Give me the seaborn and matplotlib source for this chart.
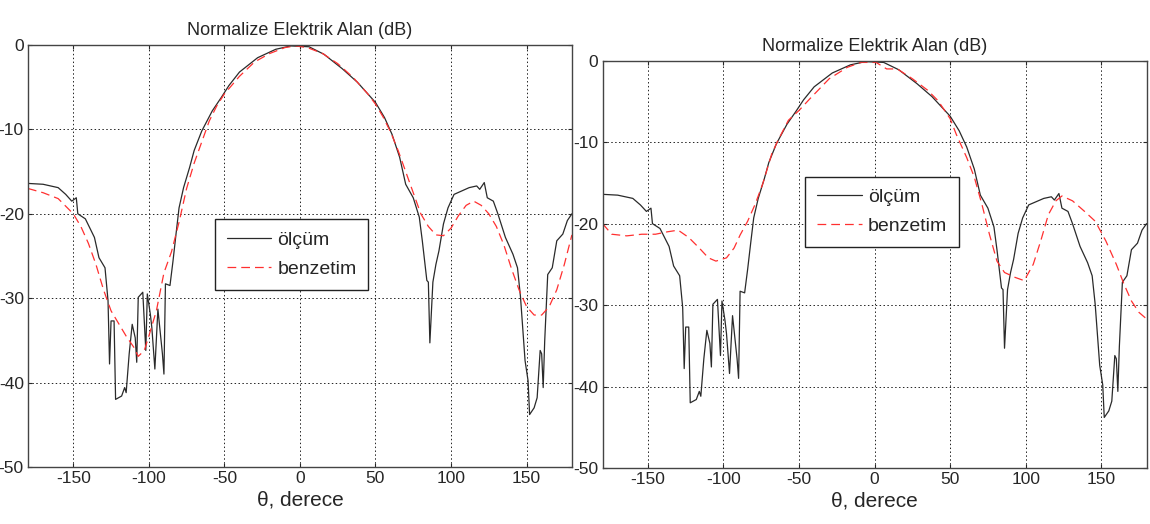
import numpy as np
import pandas as pd
import matplotlib
matplotlib.use('Agg')
import matplotlib.pyplot as plt
import seaborn as sns

# ölçüm (measured) - same in both panels
theta_olcum = [-180, -170, -160, -155, -151, -148, -147, -142, -136, -133, -129, -127, -126, -125,
               -123, -122, -118, -116, -115, -113, -111, -109, -108, -107, -104, -102, -101, -99,
               -98, -96, -94, -91, -90, -89, -86, -84, -82, -80, -77, -73, -70, -65, -58, -52,
               -47, -40, -28, -16, -6, 6, 16, 28, 38, 45, 50, 56, 61, 66, 70, 75, 79, 81, 84,
               85, 86, 88, 90, 92, 95, 98, 102, 107, 112, 117, 119, 122, 124, 128, 131, 136,
               141, 144, 146, 149, 151, 152, 155, 157, 159, 160, 161, 162, 164, 167, 170, 174,
               177, 180]
db_olcum = [-16.4, -16.5, -16.9, -17.7, -18.5, -18.1, -20.0, -20.6, -22.8, -25.2, -26.4, -30.3,
            -37.8, -32.7, -32.7, -42.0, -41.6, -40.6, -41.2, -36.6, -33.1, -34.7, -37.6, -29.9,
            -29.3, -36.2, -29.5, -31.9, -33.5, -38.4, -31.3, -36.6, -39.0, -28.3, -28.5, -25.6,
            -22.4, -19.3, -16.9, -14.5, -12.5, -10.2, -7.8, -6.2, -4.8, -3.2, -1.5, -0.5, -0.1,
            -0.2, -1.1, -2.8, -4.4, -5.8, -6.8, -8.6, -10.6, -13.3, -16.5, -18.1, -20.4, -23.2,
            -27.9, -28.1, -35.3, -28.1, -26.0, -24.4, -21.2, -19.3, -17.7, -17.3, -16.9, -16.7,
            -17.1, -16.3, -18.1, -18.5, -20.0, -22.8, -24.8, -26.4, -29.9, -37.4, -39.8, -43.8,
            -43.0, -41.8, -36.2, -36.6, -40.6, -35.1, -27.2, -26.4, -23.2, -22.4, -20.8, -20.0]

# benzetim (simulation) - left panel
theta_benz1 = [-180, -170, -160, -150, -145, -140, -135, -130, -125, -120, -115, -110, -107,
               -103, -100, -95, -90, -85, -80, -75, -70, -65, -60, -55, -50, -40, -30, -20,
               -10, -3, 5, 15, 25, 35, 45, 50, 55, 60, 65, 70, 75, 80, 85, 90, 95, 100, 105,
               110, 115, 120, 125, 130, 135, 140, 145, 150, 155, 160, 165, 170, 175, 180]
db_benz1 = [-17.0, -17.5, -18.2, -20.0, -21.5, -23.5, -26.0, -29.0, -31.5, -33.0, -34.5, -35.8,
            -36.9, -36.2, -34.5, -31.5, -27.0, -24.5, -21.0, -17.0, -14.0, -11.5, -9.0, -7.2,
            -5.8, -3.7, -2.0, -1.0, -0.3, -0.1, -0.3, -1.0, -2.2, -3.8, -5.8, -7.0, -8.5,
            -10.3, -12.5, -15.0, -17.5, -20.0, -21.5, -22.5, -22.6, -21.7, -20.2, -19.0, -18.5,
            -19.0, -20.0, -21.5, -23.7, -26.5, -29.0, -31.0, -32.0, -32.0, -31.0, -29.0, -26.0,
            -22.5]

# benzetim (simulation) - right panel
theta_benz2 = [-180, -174, -164, -154, -145, -137, -130, -123, -116, -110, -105, -98, -93, -89,
               -84, -79, -74, -68, -64, -57, -50, -43, -30, -18, -9, 1, 8, 15, 25, 35, 42, 50,
               54, 61, 66, 71, 76, 81, 86, 93, 99, 105, 110, 115, 120, 124, 131, 139, 146, 153,
               160, 165, 170, 175, 180]
db_benz2 = [-20.0, -21.3, -21.5, -21.3, -21.3, -21.0, -20.8, -21.7, -23.0, -24.2, -24.6, -24.2,
            -23.0, -21.4, -19.7, -17.6, -15.1, -11.4, -9.8, -7.3, -6.1, -4.7, -2.2, -0.8, -0.2,
            -0.2, -1.0, -1.0, -2.2, -3.6, -4.9, -7.1, -9.0, -11.9, -14.3, -17.6, -21.3, -24.6,
            -26.0, -26.6, -27.0, -25.0, -22.1, -18.9, -17.2, -16.6, -17.2, -18.5, -19.7, -22.1,
            -25.0, -27.4, -29.5, -30.9, -31.7]

sns.set_style('white')
plt.rcParams['font.family'] = ['Liberation Sans Narrow', 'Liberation Sans', 'DejaVu Sans']
plt.rcParams['axes.unicode_minus'] = False

fig = plt.figure(figsize=(11.5, 5.24), dpi=100)
ax1 = fig.add_axes([0.0243, 0.109, 0.473, 0.805])
ax2 = fig.add_axes([0.524, 0.107, 0.473, 0.777])

olcum = pd.DataFrame({'theta': theta_olcum, 'dB': db_olcum})
panels = [(ax1, pd.DataFrame({'theta': theta_benz1, 'dB': db_benz1}), (0.344, 0.42)),
          (ax2, pd.DataFrame({'theta': theta_benz2, 'dB': db_benz2}), (0.373, 0.543))]

for ax, benz, leg_pos in panels:
    sns.lineplot(data=olcum, x='theta', y='dB', ax=ax, color='#2a2a2a', lw=0.9,
                 label='ölçüm')
    sns.lineplot(data=benz, x='theta', y='dB', ax=ax, color='#ff3030', lw=0.9,
                 dashes=(7, 4), label='benzetim')
    ax.set_xlim(-180, 180)
    ax.set_ylim(-50, 0)
    ax.set_xticks([-150, -100, -50, 0, 50, 100, 150])
    ax.set_yticks([-50, -40, -30, -20, -10, 0])
    ax.grid(True, color='#222222', linestyle=(0, (1.5, 2.5)), linewidth=0.7)
    ax.tick_params(direction='in', length=3, labelsize=12.5, pad=3,
                   top=True, right=True, bottom=True, left=True)
    for s in ax.spines.values():
        s.set_color('#444444')
        s.set_linewidth(1.0)
    ax.set_title('Normalize Elektrik Alan (dB)', fontsize=13, pad=7)
    ax.set_xlabel('θ, derece', fontsize=15, labelpad=3)
    ax.set_ylabel('')
    leg = ax.legend(loc='lower left', bbox_to_anchor=leg_pos, fontsize=14,
                    fancybox=False, framealpha=1, edgecolor='#222222',
                    handlelength=2.3, handletextpad=0.3, borderpad=0.6,
                    labelspacing=0.6, borderaxespad=0)
    leg.get_frame().set_linewidth(1.0)

fig.savefig('out.png', dpi=100)
